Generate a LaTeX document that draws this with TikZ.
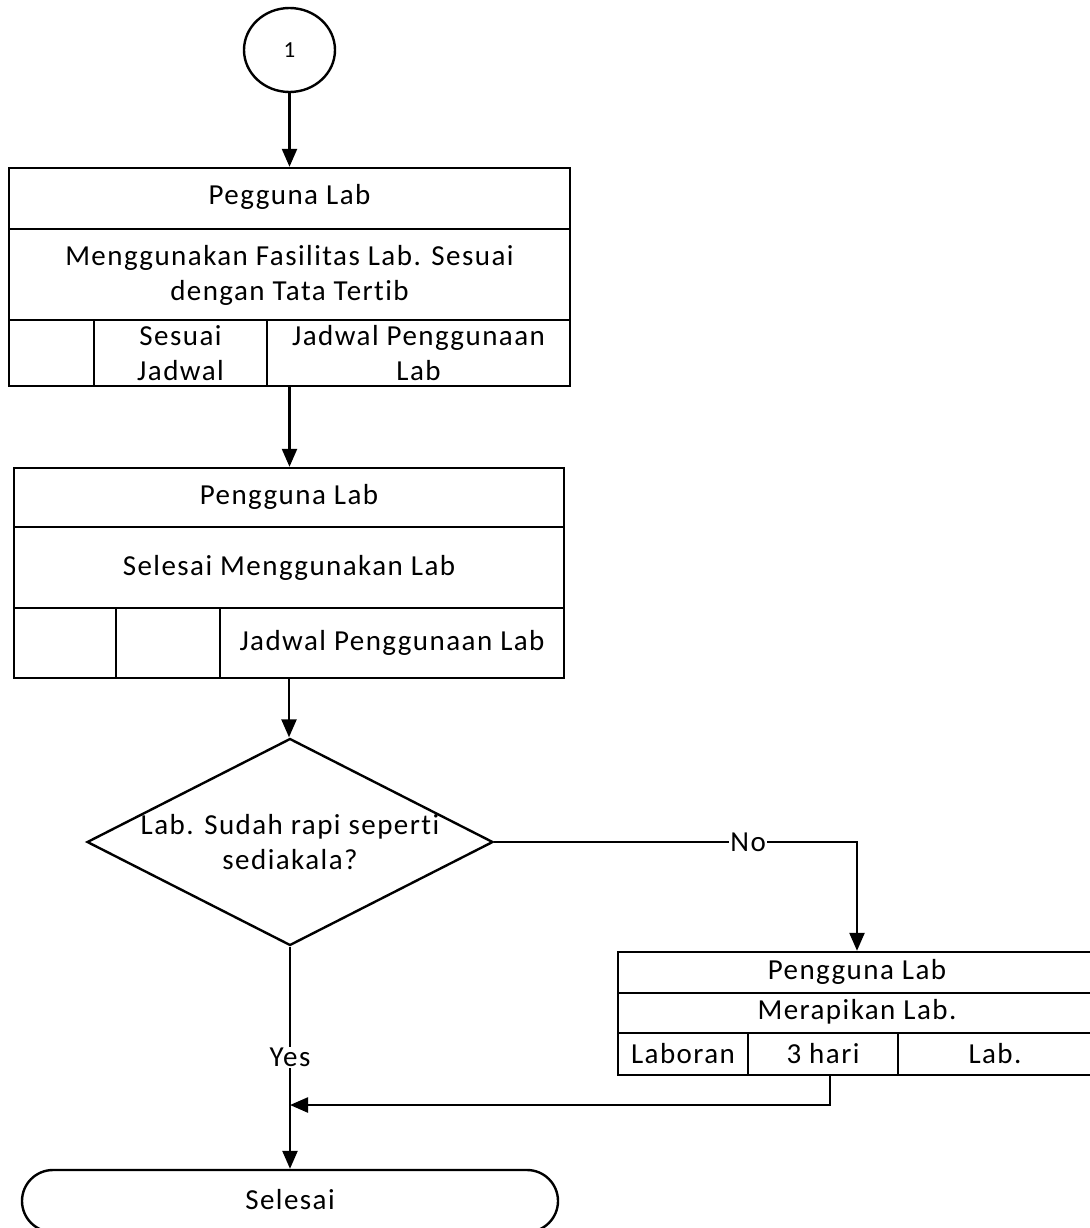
\documentclass[tikz,border=0pt]{standalone}
\usepackage{fontspec}
\setmainfont{Carlito}[LetterSpace=5,Ligatures=NoCommon]
\usetikzlibrary{arrows.meta,shapes.geometric}
\begin{document}
\begin{tikzpicture}[x=1pt,y=-1pt,line width=2.4pt,
  every node/.style={font=\fontsize{29}{35}\selectfont},
  box/.style={draw,rectangle,inner sep=0pt},
  txt/.style={inner sep=0pt,align=center},
  arr/.style={-{Triangle[length=18pt,width=15pt]}},
  lbl/.style={fill=white,inner sep=1pt}]
\useasboundingbox (0,0) rectangle (1089,1228);
% start connector
\node[draw,ellipse,minimum width=91pt,minimum height=84pt,inner sep=0pt] (c1) at (289.5,50) {};
\node[txt,font=\fontsize{23}{26}\selectfont] (c1t) at (289.5,50) {1};
% box 1
\node[box,minimum width=561pt,minimum height=218pt] (b1) at (289.5,277) {};
\draw (9,229) -- (570,229);
\draw (9,320) -- (570,320);
\draw (94,320) -- (94,386);
\draw (267,320) -- (267,386);
\node[txt] (b1t) at (289.5,197) {Pegguna Lab};
\node[txt] (b1m) at (289.5,275) {Menggunakan Fasilitas Lab. Sesuai\\dengan Tata Tertib};
\node[txt] (b1c2) at (180.5,353) {Sesuai\\Jadwal};
\node[txt] (b1c3) at (418.5,353) {Jadwal Penggunaan\\Lab};
% box 2
\node[box,minimum width=550pt,minimum height=210pt] (b2) at (289,573) {};
\draw (14,527) -- (564,527);
\draw (14,608) -- (564,608);
\draw (116,608) -- (116,678);
\draw (220,608) -- (220,678);
\node[txt] (b2t) at (289,497) {Pengguna Lab};
\node[txt] (b2m) at (289,568) {Selesai Menggunakan Lab};
\node[txt] (b2c3) at (392,643) {Jadwal Penggunaan Lab};
% decision
\node[draw,diamond,minimum width=406pt,minimum height=207pt,inner sep=0pt] (d) at (290,842) {};
\node[txt] (dt) at (290,842) {Lab. Sudah rapi seperti\\sediakala?};
% box 3
\node[box,minimum width=478pt,minimum height=123pt] (b3) at (857,1013.5) {};
\draw (618,993) -- (1096,993);
\draw (618,1033) -- (1096,1033);
\draw (748,1033) -- (748,1075);
\draw (898,1033) -- (898,1075);
\node[txt] (b3t) at (857,972) {Pengguna Lab};
\node[txt] (b3m) at (857,1012) {Merapikan Lab.};
\node[txt] (b3c1) at (683,1054) {Laboran};
\node[txt] (b3c2) at (823,1054) {3 hari};
\node[txt] (b3c3) at (995,1054) {Lab.};
% terminator
\node[draw,rectangle,rounded corners=31pt,minimum width=536pt,minimum height=62pt,inner sep=0pt] (t) at (290,1201) {};
\node[txt] (tt) at (290,1200) {Selesai};
% connectors
\coordinate (b3x) at (830,1075);
\coordinate (j) at (290,1105);
\draw[arr] (c1.south) -- (b1.north);
\draw[arr] (b1.south) -- (b1.south |- b2.north);
\draw[arr] (b2.south) -- (b2.south |- d.north);
\draw[arr] (d.east) -| node[lbl,pos=0.35] {No} (b3.north);
\draw[arr] (d.south) -- node[lbl,pos=0.5] {Yes} (t.north);
\draw[arr] (b3x) |- (j);
\end{tikzpicture}
\end{document}
